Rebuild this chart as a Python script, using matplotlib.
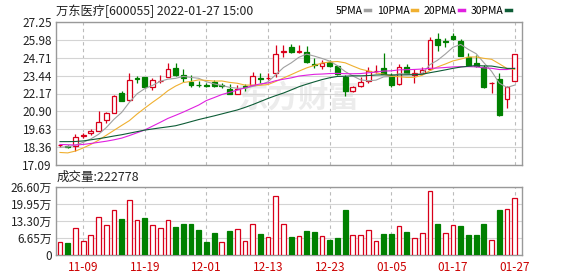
import matplotlib
matplotlib.use('Agg')
import matplotlib.pyplot as plt
from matplotlib.lines import Line2D
import numpy as np
import pandas as pd

# 交易日 (2021-11-04 ~ 2022-01-27, 1月3日休市)
days = pd.bdate_range('2021-11-04', '2022-01-27')
days = days[days != pd.Timestamp('2022-01-03')]
day_labels = [d.strftime('%m-%d') for d in days]
tick_labels = ['11-09', '11-19', '12-01', '12-13', '12-23', '01-05', '01-17', '01-27']

open_ = [18.48, 18.46, 18.44, 19.15, 19.34, 19.53, 20.29, 20.81, 22.18, 21.68,
         23.25, 23.32, 22.65, 23.03, 23.36, 23.96, 23.50, 23.01, 22.80, 22.75,
         22.99, 22.74, 22.49, 22.13, 22.68, 22.77, 23.27, 23.25, 23.60, 25.15,
         25.50, 25.15, 25.14, 24.27, 24.15, 24.38, 24.12, 23.36, 22.32, 22.70,
         23.08, 23.76, 24.00, 23.48, 22.84, 24.03, 23.48, 23.60, 23.89, 26.02,
         25.87, 26.25, 25.92, 24.79, 24.31, 24.08, 22.90, 23.17, 21.75, 23.08]
close = [18.52, 18.38, 19.05, 19.22, 19.53, 20.17, 20.76, 22.00, 21.66, 23.13,
         23.20, 22.61, 23.13, 23.08, 23.93, 23.48, 23.30, 22.77, 22.77, 22.72,
         22.70, 22.72, 22.13, 22.46, 22.64, 23.44, 23.20, 23.29, 24.95, 25.19,
         25.09, 25.19, 24.43, 24.23, 24.36, 24.15, 23.55, 22.37, 22.65, 22.99,
         23.79, 23.80, 23.53, 22.77, 24.03, 23.65, 23.60, 23.84, 25.97, 25.62,
         25.83, 26.02, 24.83, 24.19, 24.12, 22.65, 22.94, 20.64, 22.65, 24.95]
high = [18.60, 18.50, 19.29, 19.38, 19.65, 20.92, 20.88, 22.07, 22.37, 23.60,
        23.41, 23.32, 23.25, 23.48, 24.31, 24.36, 23.89, 23.48, 23.08, 22.90,
        23.13, 22.89, 22.82, 22.77, 22.84, 23.72, 23.60, 23.60, 25.62, 25.62,
        25.69, 25.62, 25.54, 24.67, 24.55, 24.55, 24.20, 23.48, 22.70, 23.32,
        24.03, 24.20, 25.02, 23.60, 24.26, 24.26, 23.89, 24.08, 26.16, 26.44,
        26.09, 26.44, 26.02, 25.07, 24.90, 24.20, 22.96, 23.60, 22.70, 24.98]
low = [18.35, 18.30, 18.11, 18.98, 19.22, 19.50, 20.05, 20.76, 21.66, 21.66,
       22.89, 22.55, 22.42, 22.89, 23.32, 23.44, 23.01, 22.61, 22.60, 22.60,
       22.61, 22.54, 22.13, 22.13, 22.37, 22.77, 22.89, 23.10, 23.36, 24.78,
       25.02, 25.02, 24.36, 24.00, 23.89, 24.08, 23.48, 21.99, 22.30, 22.65,
       22.89, 23.60, 23.53, 22.61, 22.77, 23.60, 22.94, 23.53, 23.84, 25.21,
       25.50, 25.97, 24.83, 24.15, 24.08, 22.58, 22.23, 20.57, 21.11, 23.08]

# 成交量 (万)
volume = [5.2, 4.8, 10.6, 5.6, 7.9, 14.9, 11.8, 17.4, 14.1, 21.3,
          13.6, 14.5, 11.8, 10.6, 13.6, 11.0, 12.1, 12.1, 9.8, 5.2,
          8.7, 5.2, 9.4, 10.1, 5.6, 12.0, 8.3, 7.1, 22.9, 12.0,
          7.1, 7.5, 9.4, 9.0, 7.5, 5.9, 6.7, 17.6, 7.8, 7.8,
          9.7, 5.6, 8.3, 8.3, 11.2, 9.0, 6.7, 8.7, 24.8, 12.1,
          8.7, 11.8, 11.4, 7.9, 7.9, 12.1, 5.8, 17.6, 18.0, 22.28]
vol_up = [1, 0, 1, 1, 1, 1, 1, 1, 0, 1, 1, 0, 1, 1, 1, 0, 0, 0, 0, 0,
          0, 1, 0, 1, 1, 1, 0, 1, 1, 1, 0, 1, 0, 0, 1, 0, 0, 0, 1, 1,
          1, 1, 0, 0, 1, 0, 1, 1, 1, 0, 1, 1, 0, 0, 0, 0, 1, 0, 1, 1]

# 均线开头部分 (需要之前的数据, 从图上读)
ma5_head = [18.35, 18.38, 18.50, 18.70]
ma10_head = [17.98, 17.95, 18.08, 18.30, 18.55, 18.85, 19.20, 19.55, 19.90]
ma20_head = [18.55, 18.53, 18.51, 18.55, 18.62, 18.70, 18.78, 18.88, 19.00, 19.18,
             19.38, 19.58, 19.85, 20.12, 20.40, 20.62, 20.85, 21.10, 21.35]
ma30_head = [18.75, 18.75, 18.76, 18.80, 18.88, 18.96, 19.05, 19.15, 19.24, 19.35,
             19.46, 19.57, 19.65, 19.73, 19.80, 19.88, 20.02, 20.17, 20.32, 20.45,
             20.58, 20.72, 20.86, 21.00, 21.18, 21.38, 21.60, 21.82, 22.02]

red = '#d8001a'
green = '#008000'
ma_colors = ['#a0a0a0', '#f0b030', '#e020e0', '#0d5c36']

plt.rcParams['font.family'] = ['Noto Sans CJK SC', 'DejaVu Sans']

fig = plt.figure(figsize=(5.78, 2.76), dpi=100)
W, H = 578, 276
ax = fig.add_axes([56 / W, 1 - 165 / H, 466 / W, 143 / H])
axv = fig.add_axes([56 / W, 1 - 255.3 / H, 466 / W, 68.6 / H])

x = np.arange(len(close))
o = np.array(open_); c = np.array(close)
up = c >= o

# 蜡烛
for i in x:
    col = red if up[i] else green
    ax.vlines(i, low[i], high[i], color=col, lw=0.9, zorder=2)
    ax.bar(i, max(abs(c[i] - o[i]), 0.03), bottom=min(o[i], c[i]), width=0.62,
           facecolor='white' if up[i] else green, edgecolor=col, lw=0.9, zorder=3)

# 均线
s = pd.Series(close)
heads = [ma5_head, ma10_head, ma20_head, ma30_head]
for n, head, col in zip([5, 10, 20, 30], heads, ma_colors):
    ma = s.rolling(n).mean().values
    ma[:len(head)] = head
    ax.plot(x, ma, color=col, lw=0.8, zorder=4)

ax.text(0.52, 0.47, '东方财富', transform=ax.transAxes, fontsize=22, color='#ececec',
        fontweight='bold', style='italic', ha='center', va='center', zorder=0)

tick_idx = [day_labels.index(t) for t in tick_labels]
yt = np.linspace(17.09, 27.25, 9)
ax.set_yticks(yt)
ax.set_yticklabels(['%.2f' % v for v in yt])
ax.set_ylim(17.09, 27.25)
ax.set_xlim(-0.52, 59.95)
ax.set_xticks(tick_idx)
ax.set_xticklabels([])

vol = np.array(volume)
for i in x:
    col = red if vol_up[i] else green
    axv.bar(i, vol[i], width=0.62, facecolor='white' if vol_up[i] else green,
            edgecolor=col, lw=0.9, zorder=3)
vt = np.linspace(0, 26.6, 5)
axv.set_yticks(vt)
axv.set_yticklabels(['0'] + ['%.2f万' % v for v in vt[1:]])
axv.set_ylim(0, 26.6)
axv.set_xlim(-0.52, 59.95)
axv.set_xticks(tick_idx)
axv.set_xticklabels(tick_labels, color='#cc0000')

for a in (ax, axv):
    a.grid(axis='y', color='#d4d4d4', lw=0.8, ls='-', zorder=0)
    a.grid(axis='x', color='#bbbbbb', lw=0.8, ls=(0, (3, 3)), zorder=0)
    a.set_axisbelow(True)
    a.tick_params(length=0, pad=3, labelsize=8.5, labelcolor='#222222')
    for sp in a.spines.values():
        sp.set_color('#999999')
        sp.set_linewidth(1)
axv.tick_params(axis='x', pad=4, labelcolor='#cc0000')

fig.text(56 / W, 1 - 11 / H, '万东医疗[600055] 2022-01-27 15:00', va='center',
         fontsize=8.8, color='#222222')
fig.text(57 / W, 1 - 177 / H, '成交量:222778', va='center', fontsize=9, color='#222222')

handles = [Line2D([], [], color=col, lw=2.5) for col in ma_colors]
fig.legend(handles, ['5PMA', '10PMA', '20PMA', '30PMA'], loc='center right',
           bbox_to_anchor=(511 / W, 1 - 11 / H), ncol=4, frameon=False, markerfirst=False,
           handlelength=0.5, handletextpad=0.25, columnspacing=0.6, fontsize=7.5,
           borderpad=0, borderaxespad=0)

fig.savefig('out.png', dpi=100)
